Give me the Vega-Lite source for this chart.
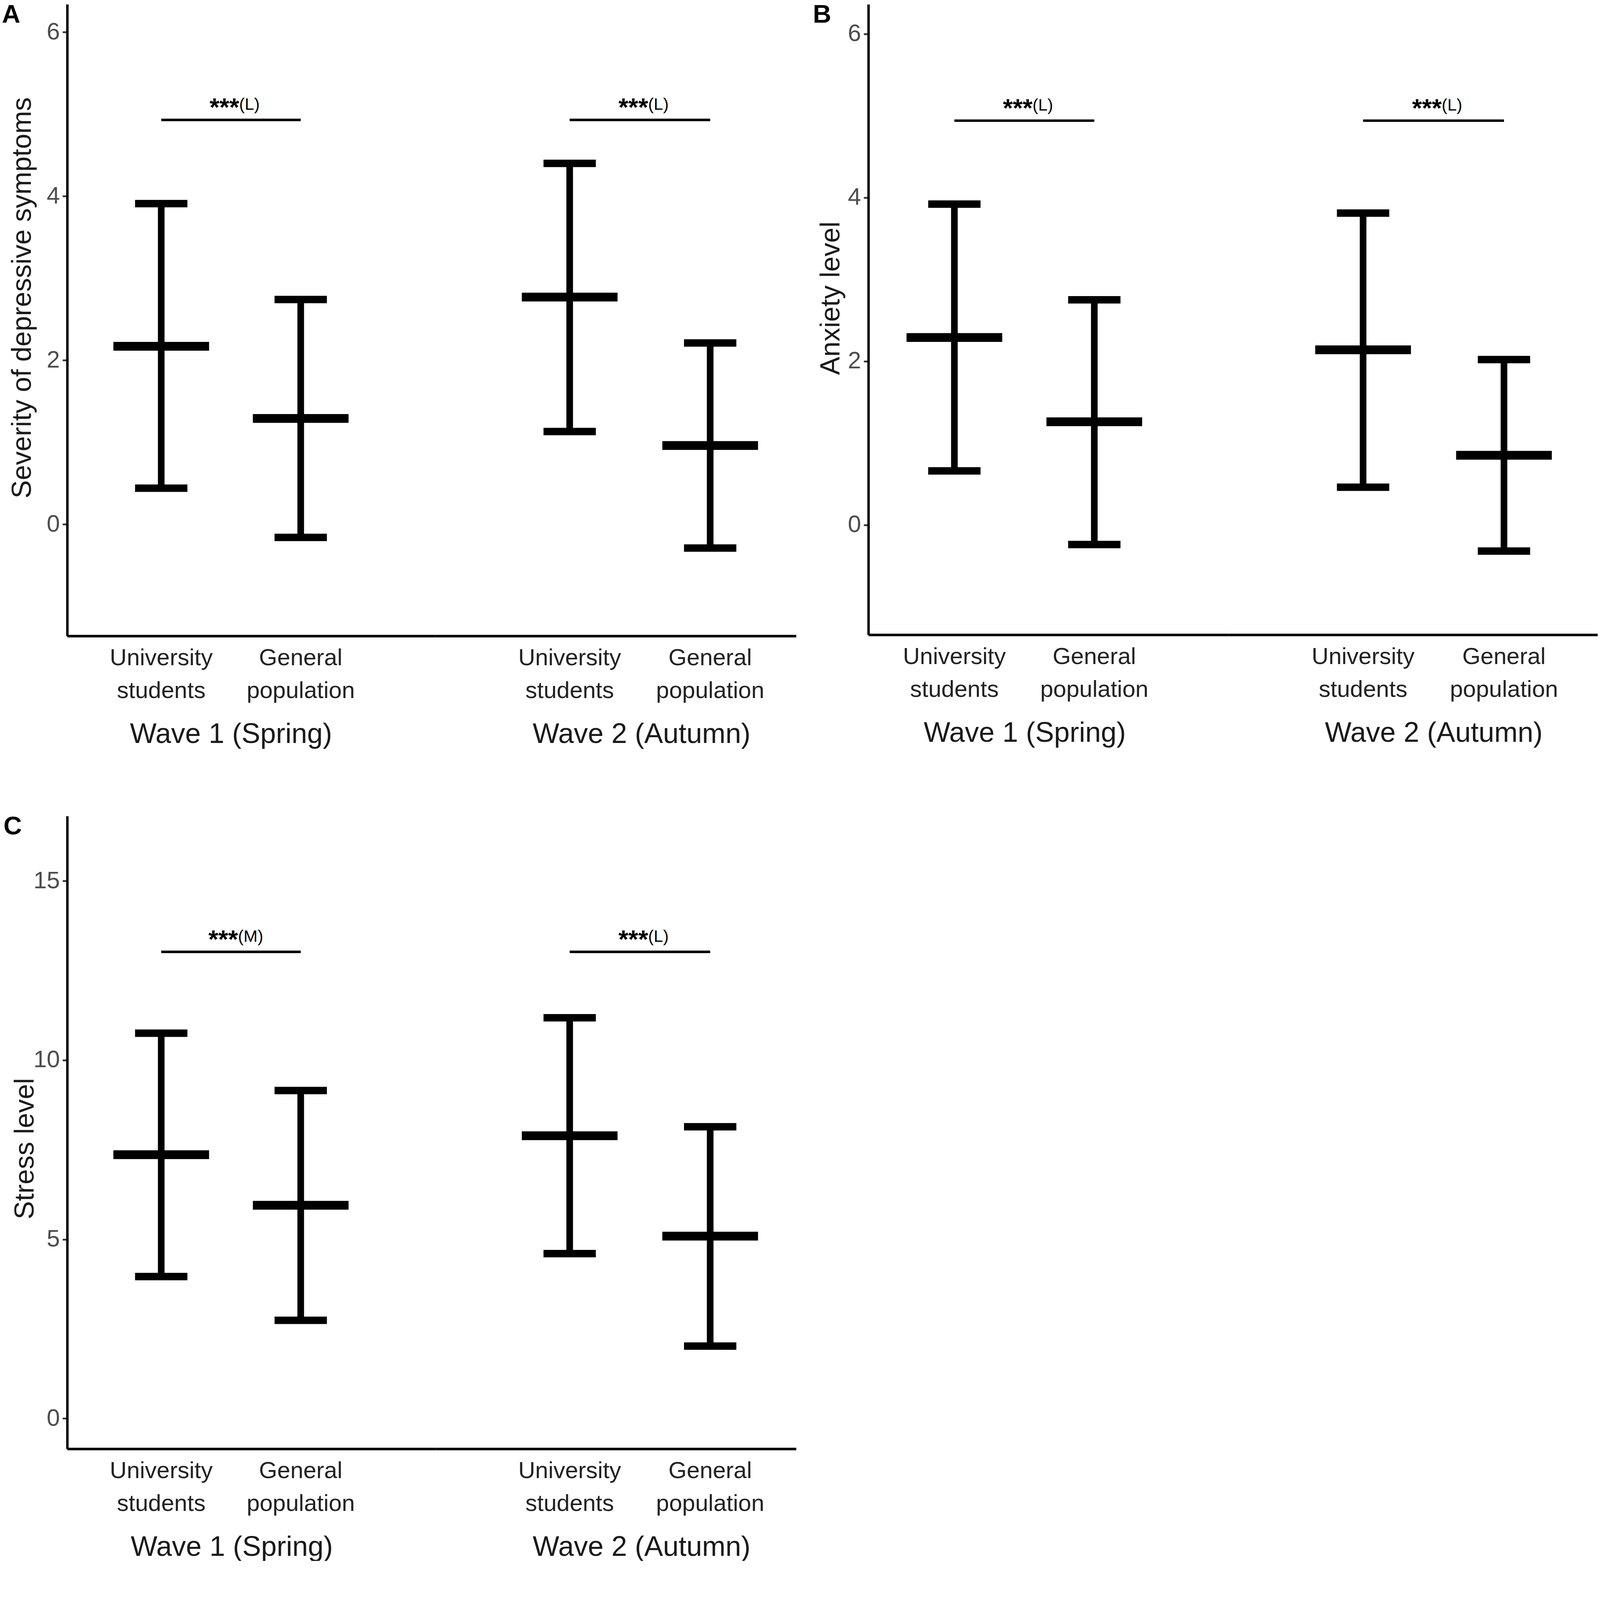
{
  "$schema": "https://vega.github.io/schema/vega-lite/v6.json",
  "padding": {"left": 5, "top": 6, "right": 0, "bottom": 0},
  "datasets": {
    "stats": [
      {"panel": "A", "wave": "Wave 1 (Spring)", "group": "University students", "mean": 2.17, "lower": 0.44, "upper": 3.91},
      {"panel": "A", "wave": "Wave 1 (Spring)", "group": "General population", "mean": 1.29, "lower": -0.16, "upper": 2.74},
      {"panel": "A", "wave": "Wave 2 (Autumn)", "group": "University students", "mean": 2.77, "lower": 1.13, "upper": 4.40},
      {"panel": "A", "wave": "Wave 2 (Autumn)", "group": "General population", "mean": 0.96, "lower": -0.29, "upper": 2.21},
      {"panel": "B", "wave": "Wave 1 (Spring)", "group": "University students", "mean": 2.29, "lower": 0.66, "upper": 3.92},
      {"panel": "B", "wave": "Wave 1 (Spring)", "group": "General population", "mean": 1.26, "lower": -0.24, "upper": 2.75},
      {"panel": "B", "wave": "Wave 2 (Autumn)", "group": "University students", "mean": 2.14, "lower": 0.46, "upper": 3.81},
      {"panel": "B", "wave": "Wave 2 (Autumn)", "group": "General population", "mean": 0.85, "lower": -0.32, "upper": 2.02},
      {"panel": "C", "wave": "Wave 1 (Spring)", "group": "University students", "mean": 7.36, "lower": 3.96, "upper": 10.75},
      {"panel": "C", "wave": "Wave 1 (Spring)", "group": "General population", "mean": 5.95, "lower": 2.74, "upper": 9.15},
      {"panel": "C", "wave": "Wave 2 (Autumn)", "group": "University students", "mean": 7.89, "lower": 4.60, "upper": 11.18},
      {"panel": "C", "wave": "Wave 2 (Autumn)", "group": "General population", "mean": 5.09, "lower": 2.02, "upper": 8.14}
    ],
    "sig": [
      {"panel": "A", "wave": "Wave 1 (Spring)", "from": "University students", "to": "General population", "y": 4.93, "stars": "***", "effect": "(L)"},
      {"panel": "A", "wave": "Wave 2 (Autumn)", "from": "University students", "to": "General population", "y": 4.93, "stars": "***", "effect": "(L)"},
      {"panel": "B", "wave": "Wave 1 (Spring)", "from": "University students", "to": "General population", "y": 4.94, "stars": "***", "effect": "(L)"},
      {"panel": "B", "wave": "Wave 2 (Autumn)", "from": "University students", "to": "General population", "y": 4.94, "stars": "***", "effect": "(L)"},
      {"panel": "C", "wave": "Wave 1 (Spring)", "from": "University students", "to": "General population", "y": 13.02, "stars": "***", "effect": "(M)"},
      {"panel": "C", "wave": "Wave 2 (Autumn)", "from": "University students", "to": "General population", "y": 13.02, "stars": "***", "effect": "(L)"}
    ]
  },
  "config": {
    "font": "Liberation Sans",
    "view": {"stroke": null},
    "axis": {
      "grid": false,
      "domainColor": "black",
      "domainWidth": 6.3,
      "labelFont": "Liberation Sans",
      "titleFont": "Liberation Sans",
      "titleFontWeight": "normal",
      "labelLimit": 1000,
      "titleLimit": 3000
    },
    "axisX": {
      "ticks": false,
      "tickSize": 0,
      "labelAngle": 0,
      "labelFontSize": 60,
      "labelColor": "#222222",
      "labelPadding": 27,
      "labelLineHeight": 84,
      "titleFontSize": 72,
      "titleColor": "#1a1a1a"
    },
    "axisY": {
      "tickSize": 12,
      "tickWidth": 4.5,
      "tickColor": "#333333",
      "labelFontSize": 61,
      "labelColor": "#4d4d4d",
      "labelPadding": 7,
      "titleFontSize": 70,
      "titleColor": "#1a1a1a"
    },
    "title": {
      "font": "Liberation Sans",
      "fontWeight": "bold",
      "fontSize": 65,
      "anchor": "start",
      "frame": "bounds",
      "baseline": "alphabetic",
      "color": "black"
    }
  },
  "spacing": 169,
  "vconcat": [
    {
      "spacing": 43,
      "hconcat": [
        {
          "title": {"text": "A", "dx": -17, "dy": 65},
          "spacing": 0,
          "hconcat": [
            {
              "width": 942, "height": 1617,
              "layer": [
                {
                  "data": {"name": "stats"},
                  "transform": [{"filter": "datum.panel === 'A' && datum.wave === 'Wave 1 (Spring)'"}],
                  "encoding": {
                    "x": {"field": "group", "type": "nominal",
                      "scale": {"type": "band", "domain": ["University students", "General population"], "paddingInner": 0, "paddingOuter": 0.319, "align": 0.273},
                      "axis": {"title": "Wave 1 (Spring)", "titleX": 419, "titleY": 273, "titleBaseline": "alphabetic", "labelExpr": "split(datum.label, ' ')"}}
                  },
                  "layer": [
                    {"mark": {"type": "rule", "color": "black", "strokeWidth": 17},
                     "encoding": {"y": {"field": "lower", "type": "quantitative", "scale": {"domain": [-1.362, 6.34], "nice": false, "zero": false},
                       "axis": {"title": "Severity of depressive symptoms", "values": [0, 2, 4, 6], "format": "d", "titleX": -79, "titleY": 751}},
                       "y2": {"field": "upper"}}},
                    {"mark": {"type": "tick", "orient": "horizontal", "size": 134, "thickness": 19, "color": "black", "opacity": 1},
                     "encoding": {"y": {"field": "lower", "type": "quantitative"}}},
                    {"mark": {"type": "tick", "orient": "horizontal", "size": 134, "thickness": 19, "color": "black", "opacity": 1},
                     "encoding": {"y": {"field": "upper", "type": "quantitative"}}},
                    {"mark": {"type": "tick", "orient": "horizontal", "size": 245, "thickness": 22.5, "color": "black", "opacity": 1},
                     "encoding": {"y": {"field": "mean", "type": "quantitative"}}}
                  ]
                },
                {
                  "data": {"name": "sig"},
                  "transform": [{"filter": "datum.panel === 'A' && datum.wave === 'Wave 1 (Spring)'"}],
                  "layer": [
                    {"mark": {"type": "rule", "color": "black", "strokeWidth": 6.3},
                     "encoding": {"x": {"field": "from", "type": "nominal"}, "x2": {"field": "to"}, "y": {"field": "y", "type": "quantitative"}}},
                    {"mark": {"type": "text", "font": "Liberation Sans", "fontWeight": "bold", "fontSize": 65, "align": "right", "baseline": "alphabetic", "dx": 21, "dy": -10},
                     "encoding": {"x": {"field": "to", "type": "nominal", "bandPosition": 0}, "y": {"field": "y", "type": "quantitative"}, "text": {"field": "stars"}}},
                    {"mark": {"type": "text", "fontSize": 43, "align": "left", "baseline": "alphabetic", "dx": 21, "dy": -26},
                     "encoding": {"x": {"field": "to", "type": "nominal", "bandPosition": 0}, "y": {"field": "y", "type": "quantitative"}, "text": {"field": "effect"}}}
                  ]
                }
              ]
            },
            {
              "width": 924, "height": 1617,
              "layer": [
                {
                  "data": {"name": "stats"},
                  "transform": [{"filter": "datum.panel === 'A' && datum.wave === 'Wave 2 (Autumn)'"}],
                  "encoding": {
                    "x": {"field": "group", "type": "nominal",
                      "scale": {"type": "band", "domain": ["University students", "General population"], "paddingInner": 0, "paddingOuter": 0.2845, "align": 0.804},
                      "axis": {"title": "Wave 2 (Autumn)", "titleX": 528, "titleY": 273, "titleBaseline": "alphabetic", "labelExpr": "split(datum.label, ' ')"}}
                  },
                  "layer": [
                    {"mark": {"type": "rule", "color": "black", "strokeWidth": 17},
                     "encoding": {"y": {"field": "lower", "type": "quantitative", "scale": {"domain": [-1.362, 6.34], "nice": false, "zero": false}, "axis": null},
                       "y2": {"field": "upper"}}},
                    {"mark": {"type": "tick", "orient": "horizontal", "size": 134, "thickness": 19, "color": "black", "opacity": 1},
                     "encoding": {"y": {"field": "lower", "type": "quantitative", "axis": null}}},
                    {"mark": {"type": "tick", "orient": "horizontal", "size": 134, "thickness": 19, "color": "black", "opacity": 1},
                     "encoding": {"y": {"field": "upper", "type": "quantitative", "axis": null}}},
                    {"mark": {"type": "tick", "orient": "horizontal", "size": 245, "thickness": 22.5, "color": "black", "opacity": 1},
                     "encoding": {"y": {"field": "mean", "type": "quantitative", "axis": null}}}
                  ]
                },
                {
                  "data": {"name": "sig"},
                  "transform": [{"filter": "datum.panel === 'A' && datum.wave === 'Wave 2 (Autumn)'"}],
                  "layer": [
                    {"mark": {"type": "rule", "color": "black", "strokeWidth": 6.3},
                     "encoding": {"x": {"field": "from", "type": "nominal"}, "x2": {"field": "to"}, "y": {"field": "y", "type": "quantitative", "axis": null}}},
                    {"mark": {"type": "text", "font": "Liberation Sans", "fontWeight": "bold", "fontSize": 65, "align": "right", "baseline": "alphabetic", "dx": 21, "dy": -10},
                     "encoding": {"x": {"field": "to", "type": "nominal", "bandPosition": 0}, "y": {"field": "y", "type": "quantitative", "axis": null}, "text": {"field": "stars"}}},
                    {"mark": {"type": "text", "fontSize": 43, "align": "left", "baseline": "alphabetic", "dx": 21, "dy": -26},
                     "encoding": {"x": {"field": "to", "type": "nominal", "bandPosition": 0}, "y": {"field": "y", "type": "quantitative", "axis": null}, "text": {"field": "effect"}}}
                  ]
                }
              ]
            }
          ]
        },
        {
          "title": {"text": "B", "dx": -11, "dy": 65},
          "spacing": 0,
          "hconcat": [
            {
              "width": 922, "height": 1614,
              "layer": [
                {
                  "data": {"name": "stats"},
                  "transform": [{"filter": "datum.panel === 'B' && datum.wave === 'Wave 1 (Spring)'"}],
                  "encoding": {
                    "x": {"field": "group", "type": "nominal",
                      "scale": {"type": "band", "domain": ["University students", "General population"], "paddingInner": 0, "paddingOuter": 0.287, "align": 0.2},
                      "axis": {"title": "Wave 1 (Spring)", "titleX": 400, "titleY": 273, "titleBaseline": "alphabetic", "labelExpr": "split(datum.label, ' ')"}}
                  },
                  "layer": [
                    {"mark": {"type": "rule", "color": "black", "strokeWidth": 17},
                     "encoding": {"y": {"field": "lower", "type": "quantitative", "scale": {"domain": [-1.343, 6.362], "nice": false, "zero": false},
                       "axis": {"title": "Anxiety level", "values": [0, 2, 4, 6], "format": "d", "titleX": -60, "titleY": 752}},
                       "y2": {"field": "upper"}}},
                    {"mark": {"type": "tick", "orient": "horizontal", "size": 134, "thickness": 19, "color": "black", "opacity": 1},
                     "encoding": {"y": {"field": "lower", "type": "quantitative"}}},
                    {"mark": {"type": "tick", "orient": "horizontal", "size": 134, "thickness": 19, "color": "black", "opacity": 1},
                     "encoding": {"y": {"field": "upper", "type": "quantitative"}}},
                    {"mark": {"type": "tick", "orient": "horizontal", "size": 245, "thickness": 22.5, "color": "black", "opacity": 1},
                     "encoding": {"y": {"field": "mean", "type": "quantitative"}}}
                  ]
                },
                {
                  "data": {"name": "sig"},
                  "transform": [{"filter": "datum.panel === 'B' && datum.wave === 'Wave 1 (Spring)'"}],
                  "layer": [
                    {"mark": {"type": "rule", "color": "black", "strokeWidth": 6.3},
                     "encoding": {"x": {"field": "from", "type": "nominal"}, "x2": {"field": "to"}, "y": {"field": "y", "type": "quantitative"}}},
                    {"mark": {"type": "text", "font": "Liberation Sans", "fontWeight": "bold", "fontSize": 65, "align": "right", "baseline": "alphabetic", "dx": 21, "dy": -10},
                     "encoding": {"x": {"field": "to", "type": "nominal", "bandPosition": 0}, "y": {"field": "y", "type": "quantitative"}, "text": {"field": "stars"}}},
                    {"mark": {"type": "text", "fontSize": 43, "align": "left", "baseline": "alphabetic", "dx": 21, "dy": -26},
                     "encoding": {"x": {"field": "to", "type": "nominal", "bandPosition": 0}, "y": {"field": "y", "type": "quantitative"}, "text": {"field": "effect"}}}
                  ]
                }
              ]
            },
            {
              "width": 945, "height": 1614,
              "layer": [
                {
                  "data": {"name": "stats"},
                  "transform": [{"filter": "datum.panel === 'B' && datum.wave === 'Wave 2 (Autumn)'"}],
                  "encoding": {
                    "x": {"field": "group", "type": "nominal",
                      "scale": {"type": "band", "domain": ["University students", "General population"], "paddingInner": 0, "paddingOuter": 0.31, "align": 0.734},
                      "axis": {"title": "Wave 2 (Autumn)", "titleX": 525, "titleY": 273, "titleBaseline": "alphabetic", "labelExpr": "split(datum.label, ' ')"}}
                  },
                  "layer": [
                    {"mark": {"type": "rule", "color": "black", "strokeWidth": 17},
                     "encoding": {"y": {"field": "lower", "type": "quantitative", "scale": {"domain": [-1.343, 6.362], "nice": false, "zero": false}, "axis": null},
                       "y2": {"field": "upper"}}},
                    {"mark": {"type": "tick", "orient": "horizontal", "size": 134, "thickness": 19, "color": "black", "opacity": 1},
                     "encoding": {"y": {"field": "lower", "type": "quantitative", "axis": null}}},
                    {"mark": {"type": "tick", "orient": "horizontal", "size": 134, "thickness": 19, "color": "black", "opacity": 1},
                     "encoding": {"y": {"field": "upper", "type": "quantitative", "axis": null}}},
                    {"mark": {"type": "tick", "orient": "horizontal", "size": 245, "thickness": 22.5, "color": "black", "opacity": 1},
                     "encoding": {"y": {"field": "mean", "type": "quantitative", "axis": null}}}
                  ]
                },
                {
                  "data": {"name": "sig"},
                  "transform": [{"filter": "datum.panel === 'B' && datum.wave === 'Wave 2 (Autumn)'"}],
                  "layer": [
                    {"mark": {"type": "rule", "color": "black", "strokeWidth": 6.3},
                     "encoding": {"x": {"field": "from", "type": "nominal"}, "x2": {"field": "to"}, "y": {"field": "y", "type": "quantitative", "axis": null}}},
                    {"mark": {"type": "text", "font": "Liberation Sans", "fontWeight": "bold", "fontSize": 65, "align": "right", "baseline": "alphabetic", "dx": 21, "dy": -10},
                     "encoding": {"x": {"field": "to", "type": "nominal", "bandPosition": 0}, "y": {"field": "y", "type": "quantitative", "axis": null}, "text": {"field": "stars"}}},
                    {"mark": {"type": "text", "fontSize": 43, "align": "left", "baseline": "alphabetic", "dx": 21, "dy": -26},
                     "encoding": {"x": {"field": "to", "type": "nominal", "bandPosition": 0}, "y": {"field": "y", "type": "quantitative", "axis": null}, "text": {"field": "effect"}}}
                  ]
                }
              ]
            }
          ]
        }
      ]
    },
    {
      "title": {"text": "C", "dx": -20, "dy": 65},
      "spacing": 0,
      "hconcat": [
        {
          "width": 942, "height": 1620,
          "layer": [
            {
              "data": {"name": "stats"},
              "transform": [{"filter": "datum.panel === 'C' && datum.wave === 'Wave 1 (Spring)'"}],
              "encoding": {
                "x": {"field": "group", "type": "nominal",
                  "scale": {"type": "band", "domain": ["University students", "General population"], "paddingInner": 0, "paddingOuter": 0.319, "align": 0.273},
                  "axis": {"title": "Wave 1 (Spring)", "titleX": 421, "titleY": 273, "titleBaseline": "alphabetic", "labelExpr": "split(datum.label, ' ')"}}
              },
              "layer": [
                {"mark": {"type": "rule", "color": "black", "strokeWidth": 17},
                 "encoding": {"y": {"field": "lower", "type": "quantitative", "scale": {"domain": [-0.845, 16.81], "nice": false, "zero": false},
                   "axis": {"title": "Stress level", "values": [0, 5, 10, 15], "format": "d", "titleX": -72, "titleY": 851}},
                   "y2": {"field": "upper"}}},
                {"mark": {"type": "tick", "orient": "horizontal", "size": 134, "thickness": 19, "color": "black", "opacity": 1},
                 "encoding": {"y": {"field": "lower", "type": "quantitative"}}},
                {"mark": {"type": "tick", "orient": "horizontal", "size": 134, "thickness": 19, "color": "black", "opacity": 1},
                 "encoding": {"y": {"field": "upper", "type": "quantitative"}}},
                {"mark": {"type": "tick", "orient": "horizontal", "size": 245, "thickness": 22.5, "color": "black", "opacity": 1},
                 "encoding": {"y": {"field": "mean", "type": "quantitative"}}}
              ]
            },
            {
              "data": {"name": "sig"},
              "transform": [{"filter": "datum.panel === 'C' && datum.wave === 'Wave 1 (Spring)'"}],
              "layer": [
                {"mark": {"type": "rule", "color": "black", "strokeWidth": 6.3},
                 "encoding": {"x": {"field": "from", "type": "nominal"}, "x2": {"field": "to"}, "y": {"field": "y", "type": "quantitative"}}},
                {"mark": {"type": "text", "font": "Liberation Sans", "fontWeight": "bold", "fontSize": 65, "align": "right", "baseline": "alphabetic", "dx": 18, "dy": -10},
                 "encoding": {"x": {"field": "to", "type": "nominal", "bandPosition": 0}, "y": {"field": "y", "type": "quantitative"}, "text": {"field": "stars"}}},
                {"mark": {"type": "text", "fontSize": 43, "align": "left", "baseline": "alphabetic", "dx": 18, "dy": -26},
                 "encoding": {"x": {"field": "to", "type": "nominal", "bandPosition": 0}, "y": {"field": "y", "type": "quantitative"}, "text": {"field": "effect"}}}
              ]
            }
          ]
        },
        {
          "width": 924, "height": 1620,
          "layer": [
            {
              "data": {"name": "stats"},
              "transform": [{"filter": "datum.panel === 'C' && datum.wave === 'Wave 2 (Autumn)'"}],
              "encoding": {
                "x": {"field": "group", "type": "nominal",
                  "scale": {"type": "band", "domain": ["University students", "General population"], "paddingInner": 0, "paddingOuter": 0.2845, "align": 0.804},
                  "axis": {"title": "Wave 2 (Autumn)", "titleX": 528, "titleY": 273, "titleBaseline": "alphabetic", "labelExpr": "split(datum.label, ' ')"}}
              },
              "layer": [
                {"mark": {"type": "rule", "color": "black", "strokeWidth": 17},
                 "encoding": {"y": {"field": "lower", "type": "quantitative", "scale": {"domain": [-0.845, 16.81], "nice": false, "zero": false}, "axis": null},
                   "y2": {"field": "upper"}}},
                {"mark": {"type": "tick", "orient": "horizontal", "size": 134, "thickness": 19, "color": "black", "opacity": 1},
                 "encoding": {"y": {"field": "lower", "type": "quantitative", "axis": null}}},
                {"mark": {"type": "tick", "orient": "horizontal", "size": 134, "thickness": 19, "color": "black", "opacity": 1},
                 "encoding": {"y": {"field": "upper", "type": "quantitative", "axis": null}}},
                {"mark": {"type": "tick", "orient": "horizontal", "size": 245, "thickness": 22.5, "color": "black", "opacity": 1},
                 "encoding": {"y": {"field": "mean", "type": "quantitative", "axis": null}}}
              ]
            },
            {
              "data": {"name": "sig"},
              "transform": [{"filter": "datum.panel === 'C' && datum.wave === 'Wave 2 (Autumn)'"}],
              "layer": [
                {"mark": {"type": "rule", "color": "black", "strokeWidth": 6.3},
                 "encoding": {"x": {"field": "from", "type": "nominal"}, "x2": {"field": "to"}, "y": {"field": "y", "type": "quantitative", "axis": null}}},
                {"mark": {"type": "text", "font": "Liberation Sans", "fontWeight": "bold", "fontSize": 65, "align": "right", "baseline": "alphabetic", "dx": 21, "dy": -10},
                 "encoding": {"x": {"field": "to", "type": "nominal", "bandPosition": 0}, "y": {"field": "y", "type": "quantitative", "axis": null}, "text": {"field": "stars"}}},
                {"mark": {"type": "text", "fontSize": 43, "align": "left", "baseline": "alphabetic", "dx": 21, "dy": -26},
                 "encoding": {"x": {"field": "to", "type": "nominal", "bandPosition": 0}, "y": {"field": "y", "type": "quantitative", "axis": null}, "text": {"field": "effect"}}}
              ]
            }
          ]
        }
      ]
    }
  ]
}
